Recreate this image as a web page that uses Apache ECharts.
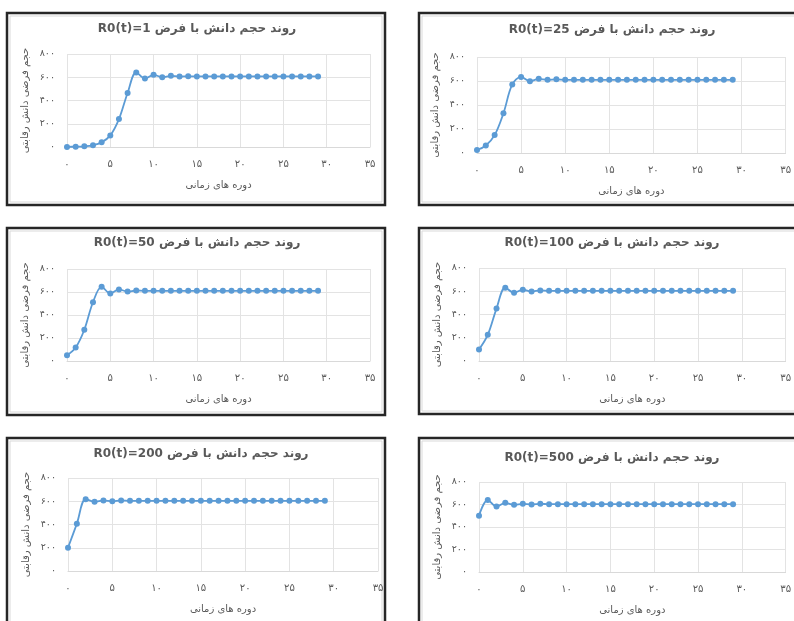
<!DOCTYPE html>
<html>
<head>
<meta charset="utf-8">
<script src="https://cdn.jsdelivr.net/npm/echarts@6/dist/echarts.min.js"></script>
<style>
html,body{margin:0;padding:0;background:#fff;}
#c{width:794px;height:621px;}
</style>
</head>
<body>
<div id="c"></div>
<script>
// ---- data ----
const periods = [0,1,2,3,4,5,6,7,8,9,10,11,12,13,14,15,16,17,18,19,20,21,22,23,24,25,26,27,28,29];
const r0Labels = ['1','25','50','100','200','500'];
const seriesR1   = [1,3,6,15,40,100,240,465,641,590,621,600,612,606,608,607,607,607,607,607,607,607,607,607,607,607,607,607,607,607];
const seriesR25  = [25,63,149,331,571,634,598,618,610,614,610,610,610,610,610,610,610,610,610,610,610,610,610,610,610,610,610,610,610,610];
const seriesR50  = [50,117,272,511,645,587,622,604,613,610,610,610,610,610,610,610,610,610,610,610,610,610,610,610,610,610,610,610,610,610];
const seriesR100 = [100,225,451,630,587,613,598,607,604,604,604,604,604,604,604,604,604,604,604,604,604,604,604,604,604,604,604,604,604,604];
const seriesR200 = [200,407,618,595,607,600,607,604,604,604,604,604,604,604,604,604,604,604,604,604,604,604,604,604,604,604,604,604,604,604];
const seriesR500 = [500,639,582,615,597,606,600,606,603,603,603,603,603,603,603,603,603,603,603,603,603,603,603,603,603,603,603,603,603,603];
const xTicks = [0,5,10,15,20,25,30,35];
const yTicks = [0,200,400,600,800];
const titleBase = 'روند حجم دانش با فرض';
const xName = 'دوره های زمانی';
const yName = 'حجم فرضی دانش رقابتی';

const allSeries = [seriesR1, seriesR25, seriesR50, seriesR100, seriesR200, seriesR500];

// ---- layout ----
const layout = [
  {grid:{left:67, top:54, width:303, height:93}, title:[197,31], box:[7,13,378,192]},
  {grid:{left:477, top:57, width:316, height:96}, title:[612,32], box:[419,13,420,192]},
  {grid:{left:67, top:269, width:303, height:92}, title:[197,245], box:[7,228,378,187]},
  {grid:{left:479, top:268, width:310, height:93}, title:[612,245], box:[419,228,420,186]},
  {grid:{left:68, top:478, width:310, height:93}, title:[201,456], box:[7,438,378,300]},
  {grid:{left:479, top:482, width:310, height:90}, title:[612,460], box:[419,438,420,300]}
];

const fa = v => String(v).replace(/\d/g, d => '۰۱۲۳۴۵۶۷۸۹'[+d]);
const txt = '#595959';
const font = "'DejaVu Sans', 'Noto Sans', sans-serif";

const option = {
  animation:false,
  backgroundColor:'#fff',
  title:[], grid:[], xAxis:[], yAxis:[], series:[], graphic:[]
};

layout.forEach((L, i) => {
  option.grid.push(Object.assign({containLabel:false}, L.grid));
  option.title.push({
    text: 'R0(t)=' + r0Labels[i] + ' ' + titleBase,
    left: L.title[0], top: L.title[1] - 8, textAlign:'center',
    padding:0,
    textStyle:{fontSize:12, fontWeight:'bold', color:txt, fontFamily:font}
  });
  option.xAxis.push({
    type:'value', gridIndex:i, min:xTicks[0], max:xTicks[xTicks.length-1], interval:5,
    name:xName, nameLocation:'middle', nameGap:33,
    nameTextStyle:{fontSize:10, color:txt, fontFamily:font},
    axisLine:{show:true, lineStyle:{color:'#d9d9d9', width:1}},
    axisTick:{show:false},
    axisLabel:{fontSize:10, color:txt, margin:12, fontFamily:font, formatter:v => fa(v)},
    splitLine:{show:true, lineStyle:{color:'#e3e3e3', width:1}}
  });
  option.yAxis.push({
    type:'value', gridIndex:i, min:yTicks[0], max:yTicks[yTicks.length-1], interval:200,
    name:yName, nameLocation:'middle', nameGap:37, nameRotate:90,
    nameTextStyle:{fontSize:10, color:txt, fontFamily:font},
    axisLine:{show:false},
    axisTick:{show:false},
    axisLabel:{fontSize:9.5, color:txt, margin:12, fontFamily:font, formatter:v => fa(v)},
    splitLine:{show:true, lineStyle:{color:'#e3e3e3', width:1}}
  });
  option.series.push({
    type:'line', xAxisIndex:i, yAxisIndex:i,
    data: periods.map((t, k) => [t, allSeries[i][k]]),
    smooth:0.35,
    symbol:'circle', symbolSize:6,
    lineStyle:{color:'#5b9bd5', width:1.8},
    itemStyle:{color:'#5b9bd5'}
  });
  const b = L.box;
  option.graphic.push({
    type:'rect', shape:{x:b[0]+3, y:b[1]+3, width:b[2]-6, height:b[3]-6},
    style:{fill:null, stroke:'#d9d9d9', lineWidth:1}, silent:true
  });
  option.graphic.push({
    type:'rect', shape:{x:b[0], y:b[1], width:b[2], height:b[3]},
    style:{fill:null, stroke:'#262626', lineWidth:2.5}, silent:true
  });
});

const chart = echarts.init(document.getElementById('c'), null, {renderer:'canvas'});
chart.setOption(option);
</script>
</body>
</html>
